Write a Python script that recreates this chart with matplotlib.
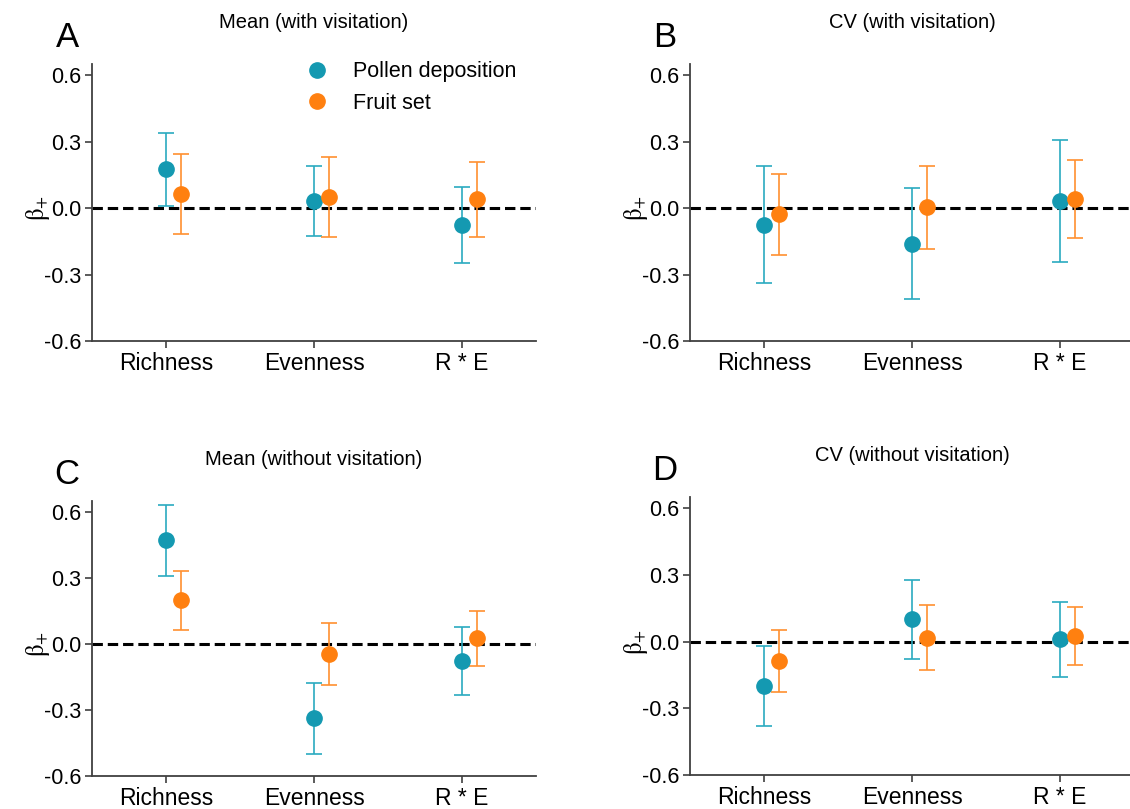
import matplotlib
matplotlib.use("Agg")
import matplotlib.pyplot as plt
from matplotlib.lines import Line2D
import numpy as np

plt.rcParams['font.family'] = ['Liberation Sans', 'DejaVu Sans']
plt.rcParams['mathtext.fontset'] = 'stix'

categories = ["Richness", "Evenness", "R * E"]
panel_letters = ["A", "B", "C", "D"]
panel_titles = ["Mean (with visitation)", "CV (with visitation)",
                "Mean (without visitation)", "CV (without visitation)"]

# estimates and 95% interval bounds
pollen_mean = [[0.175, 0.031, -0.078], [-0.076, -0.161, 0.032],
               [0.471, -0.338, -0.076], [-0.199, 0.100, 0.010]]
pollen_lo = [[0.010, -0.128, -0.250], [-0.339, -0.412, -0.244],
             [0.309, -0.500, -0.230], [-0.378, -0.078, -0.160]]
pollen_hi = [[0.340, 0.189, 0.096], [0.191, 0.091, 0.306],
             [0.633, -0.176, 0.079], [-0.019, 0.279, 0.179]]

fruit_mean = [[0.063, 0.051, 0.039], [-0.029, 0.003, 0.041],
              [0.198, -0.047, 0.026], [-0.087, 0.018, 0.024]]
fruit_lo = [[-0.118, -0.129, -0.129], [-0.214, -0.183, -0.135],
            [0.062, -0.186, -0.098], [-0.225, -0.127, -0.104]]
fruit_hi = [[0.245, 0.231, 0.208], [0.155, 0.188, 0.215],
            [0.333, 0.094, 0.148], [0.052, 0.164, 0.154]]

yticks = [-0.6, -0.3, 0.0, 0.3, 0.6]

teal = "#1499b1"
orange = "#ff8010"
spine_col = "#404040"

fig = plt.figure(figsize=(11.3, 8.09), dpi=100)
boxes = [
    [92 / 1130, 1 - 341 / 809, 444 / 1130, 277 / 809],
    [690 / 1130, 1 - 341 / 809, 444 / 1130, 277 / 809],
    [92 / 1130, 1 - 776 / 809, 444 / 1130, 275 / 809],
    [690 / 1130, 1 - 775 / 809, 444 / 1130, 278 / 809],
]

x = np.arange(len(categories))
for i, box in enumerate(boxes):
    ax = fig.add_axes(box)
    ax.axhline(0, color="black", linestyle=(0, (3.4, 1.6)), linewidth=2.2, zorder=1)

    pm = np.array(pollen_mean[i])
    ax.errorbar(x, pm, yerr=[pm - np.array(pollen_lo[i]), np.array(pollen_hi[i]) - pm],
                fmt="o", color=teal, ecolor="#2aaac0", elinewidth=1.2, capsize=6,
                capthick=1.2, markersize=11, zorder=3)
    fm = np.array(fruit_mean[i])
    ax.errorbar(x + 0.1, fm, yerr=[fm - np.array(fruit_lo[i]), np.array(fruit_hi[i]) - fm],
                fmt="o", color=orange, ecolor="#ff9030", elinewidth=1.2, capsize=6,
                capthick=1.2, markersize=11, zorder=3)

    ax.set_xlim(-0.5, 2.5)
    ax.set_ylim(-0.6, 0.65)
    ax.set_xticks(x)
    ax.set_xticklabels(categories, fontsize=16.5)
    ax.set_yticks(yticks)
    ax.set_yticklabels([f"{t:.1f}" for t in yticks], fontsize=15.5)
    for s in ["top", "right"]:
        ax.spines[s].set_visible(False)
    for s in ["left", "bottom"]:
        ax.spines[s].set_color(spine_col)
        ax.spines[s].set_linewidth(1.3)
    ax.tick_params(axis="both", color=spine_col, width=1.2, length=5, pad=3)
    ax.set_ylabel(r"$\mathrm{\beta}_{+}$", fontsize=18)
    ax.yaxis.set_label_coords(-0.09, 0.48)

    ax.text(-0.056, 1.095, panel_letters[i], transform=ax.transAxes,
            fontsize=25, ha="center", va="center")
    ax.text(0.5, 1.15, panel_titles[i], transform=ax.transAxes,
            fontsize=14.5, ha="center", va="center")

    if i == 0:
        handles = [Line2D([], [], marker="o", linestyle="none", color=teal, markersize=11),
                   Line2D([], [], marker="o", linestyle="none", color=orange, markersize=11)]
        ax.legend(handles, ["Pollen deposition", "Fruit set"], loc="upper right",
                  bbox_to_anchor=(1.0, 1.08), frameon=False, fontsize=15.5,
                  handletextpad=0.7, labelspacing=0.5)

fig.savefig("out.png", dpi=100)
